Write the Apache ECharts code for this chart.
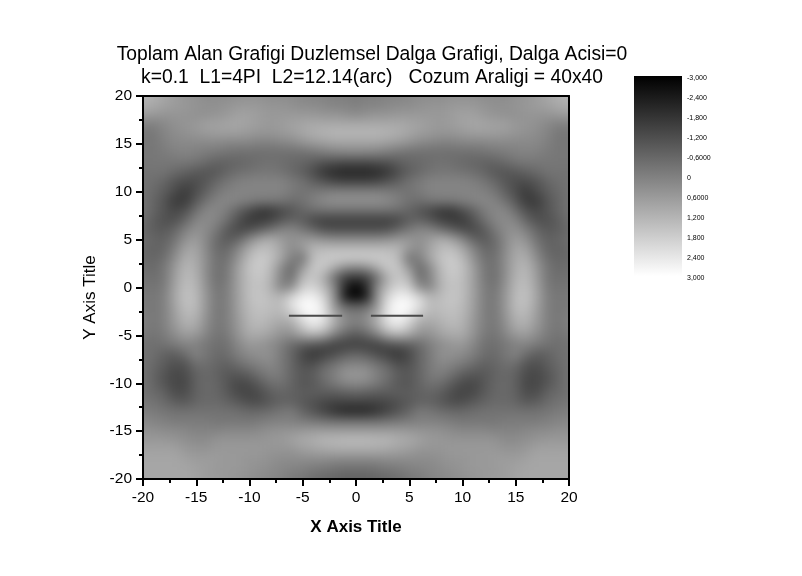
<!DOCTYPE html>
<html><head><meta charset="utf-8">
<style>html,body{margin:0;padding:0;background:#fff}#c{width:802px;height:576px}</style>
<script src="https://cdn.jsdelivr.net/npm/echarts@6/dist/echarts.min.js"></script>
</head><body><div id="c"></div>
<script>
const titleText = 'Toplam Alan Grafigi Duzlemsel Dalga Grafigi, Dalga Acisi=0\nk=0.1  L1=4PI  L2=12.14(arc)   Cozum Araligi = 40x40';
const xName = 'X Axis Title';
const yName = 'Y Axis Title';
const colorbarLabels = ['-3,000','-2,400','-1,800','-1,200','-0,6000','0','0,6000','1,200','1,800','2,400','3,000'];
const colorbarRange = [-3, 3];
const shadeColors = ['#000000', '#ffffff'];
const xValues = [-20,-19,-18,-17,-16,-15,-14,-13,-12,-11,-10,-9,-8,-7,-6,-5,-4,-3,-2,-1,0,1,2,3,4,5,6,7,8,9,10,11,12,13,14,15,16,17,18,19,20];
const yValues = [20,19,18,17,16,15,14,13,12,11,10,9,8,7,6,5,4,3,2,1,0,-1,-2,-3,-4,-5,-6,-7,-8,-9,-10,-11,-12,-13,-14,-15,-16,-17,-18,-19,-20];
const slitLine = [[-6.3,-2.95],[-1.3,-2.95],['-','-'],[1.4,-2.95],[6.3,-2.95]];
// field values, in tenths of the colour-scale unit
const fieldTenths = [
[13,11,9,7,5,4,3,3,3,4,4,4,3,3,3,2,1,1,0,0,-1,0,0,1,1,2,3,3,3,4,4,4,3,3,3,4,5,7,9,11,13],
[11,10,8,7,6,5,4,4,5,6,6,6,5,5,4,3,3,2,1,1,0,1,1,2,3,3,4,5,5,6,6,6,5,4,4,5,6,7,8,10,11],
[7,6,5,5,5,4,4,5,6,8,8,7,6,6,6,6,6,5,5,4,3,4,5,5,6,6,6,6,6,7,8,8,6,5,4,4,5,5,5,6,7],
[0,0,2,4,5,6,8,8,9,9,8,7,6,7,8,9,10,10,10,10,10,10,10,10,10,9,8,7,6,7,8,9,9,8,8,6,5,4,2,0,0],
[-2,-2,1,3,4,5,6,7,7,7,6,5,5,6,7,9,11,12,13,13,13,13,13,12,11,9,7,6,5,5,6,7,7,7,6,5,4,3,1,-2,-2],
[-2,-2,0,2,2,2,2,2,1,1,1,0,0,1,2,4,6,7,8,8,8,8,8,7,6,4,2,1,0,0,1,1,1,2,2,2,2,2,0,-2,-2],
[-2,-2,-1,0,1,0,-1,-2,-3,-4,-4,-4,-4,-4,-4,-4,-3,-1,0,1,1,1,0,-1,-3,-4,-4,-4,-4,-4,-4,-4,-3,-2,-1,0,1,0,-1,-2,-2],
[-2,-2,-2,-2,-2,-3,-5,-7,-7,-6,-5,-4,-3,-4,-5,-6,-8,-11,-12,-13,-13,-13,-12,-11,-8,-6,-5,-4,-3,-4,-5,-6,-7,-7,-5,-3,-2,-2,-2,-2,-2],
[-3,-3,-3,-5,-7,-9,-10,-9,-6,-4,-3,-2,-2,-3,-5,-8,-12,-17,-20,-21,-21,-21,-20,-17,-12,-8,-5,-3,-2,-2,-3,-4,-6,-9,-10,-9,-7,-5,-3,-3,-3],
[-3,-4,-6,-10,-12,-12,-9,-5,-2,0,1,1,1,1,-1,-3,-7,-10,-13,-14,-14,-14,-13,-10,-7,-3,-1,1,1,1,1,0,-2,-5,-9,-12,-12,-10,-6,-4,-3],
[-3,-5,-8,-12,-16,-12,-7,-2,0,1,1,1,1,1,-1,-3,-2,-1,0,0,0,0,0,-1,-2,-3,-1,1,1,1,1,1,0,-2,-7,-12,-16,-12,-8,-5,-3],
[-3,-6,-10,-16,-16,-9,-3,1,2,1,0,-1,-1,-2,-4,-3,0,3,4,4,4,4,4,3,0,-3,-4,-2,-1,-1,0,1,2,1,-3,-9,-16,-16,-10,-6,-3],
[-3,-6,-10,-13,-11,-4,2,2,-1,-7,-12,-17,-17,-13,-10,-6,-4,-3,-3,-3,-3,-3,-3,-3,-4,-6,-10,-13,-17,-17,-12,-7,-1,2,2,-4,-11,-13,-10,-6,-3],
[-4,-8,-11,-11,-6,1,3,1,-4,-11,-16,-16,-14,-10,-7,-8,-13,-15,-15,-15,-15,-15,-15,-15,-13,-8,-7,-10,-14,-16,-16,-11,-4,1,3,1,-6,-11,-11,-8,-4],
[-5,-8,-9,-6,0,4,3,-2,-9,-13,-12,-8,-4,1,2,-2,-6,-11,-12,-12,-12,-12,-12,-11,-6,-2,2,1,-4,-8,-12,-13,-9,-2,3,4,0,-6,-9,-8,-5],
[-4,-6,-7,-3,4,7,2,-5,-9,-6,2,8,11,7,4,6,6,4,3,3,3,3,3,4,6,6,4,7,11,8,2,-6,-9,-5,2,7,4,-3,-7,-6,-4],
[-5,-7,-6,0,8,9,2,-5,-5,2,10,15,14,9,3,6,13,14,14,14,14,14,14,14,13,6,3,9,14,15,10,2,-5,-5,2,9,8,0,-6,-7,-5],
[-5,-6,-4,3,11,10,3,-4,-3,5,14,18,16,9,0,-3,14,17,18,18,18,18,18,17,14,-3,0,9,16,18,14,5,-3,-4,3,10,11,3,-4,-6,-5],
[-4,-5,-2,6,13,11,3,-4,-1,8,16,18,14,3,-5,6,17,17,10,3,1,3,10,17,17,6,-5,3,14,18,16,8,-1,-4,3,11,13,6,-2,-5,-4],
[-3,-4,-2,7,14,12,3,-4,-1,8,15,17,13,1,-4,13,17,11,-4,-15,-17,-15,-4,11,17,13,-4,1,13,17,15,8,-1,-4,3,12,14,7,-2,-4,-3],
[-2,-3,-1,8,15,13,4,-3,0,8,15,16,12,1,3,18,20,14,2,-20,-29,-20,2,14,20,18,3,1,12,16,15,8,0,-3,4,13,15,8,-1,-3,-2],
[-1,-2,0,9,16,14,5,-2,0,8,15,17,14,13,20,26,27,20,4,-24,-30,-24,4,20,27,26,20,13,14,17,15,8,0,-2,5,14,16,9,0,-2,-1],
[-1,-2,0,8,15,14,5,-2,0,8,14,16,15,14,23,29,30,24,5,-5,-7,-5,5,24,30,29,23,14,15,16,14,8,0,-2,5,14,15,8,0,-2,-1],
[0,-2,0,7,13,12,4,-2,0,7,13,15,13,12,15,24,28,24,11,3,0,3,11,24,28,24,15,12,13,15,13,7,0,-2,4,12,13,7,0,-2,0],
[0,-2,0,6,11,10,3,-2,0,6,12,13,11,8,9,18,25,21,10,2,-1,2,10,21,25,18,9,8,11,13,12,6,0,-2,3,10,11,6,0,-2,0],
[-1,-3,-1,3,7,6,1,-3,-1,5,10,10,8,4,4,9,12,9,0,-6,-9,-6,0,9,12,9,4,4,8,10,10,5,-1,-3,1,6,7,3,-1,-3,-1],
[-3,-4,-3,-1,1,0,-2,-4,-3,2,6,5,3,0,-5,-8,-10,-12,-15,-15,-15,-15,-15,-12,-10,-8,-5,0,3,5,6,2,-3,-4,-2,0,1,-1,-3,-4,-3],
[-3,-4,-7,-8,-4,1,-2,-5,-4,0,3,4,4,-1,-6,-13,-17,-15,-12,-8,-6,-8,-12,-15,-17,-13,-6,-1,4,4,3,0,-4,-5,-2,1,-4,-8,-7,-4,-3],
[-3,-5,-8,-11,-10,-4,-4,-6,-7,-4,-1,1,2,-1,-6,-11,-12,-7,-3,0,1,0,-3,-7,-12,-11,-6,-1,2,1,-1,-4,-7,-6,-4,-4,-10,-11,-8,-5,-3],
[-3,-6,-10,-13,-12,-7,-5,-7,-9,-9,-7,-3,0,-1,-6,-9,-8,-3,0,5,6,5,0,-3,-8,-9,-6,-1,0,-3,-7,-9,-9,-7,-5,-7,-12,-13,-10,-6,-3],
[-3,-6,-10,-13,-13,-7,-5,-6,-10,-13,-12,-8,-4,-3,-6,-10,-9,-5,-1,2,3,2,-1,-5,-9,-10,-6,-3,-4,-8,-12,-13,-10,-6,-5,-7,-13,-13,-10,-6,-3],
[-3,-5,-7,-12,-12,-7,-5,-6,-9,-13,-14,-12,-8,-6,-7,-8,-8,-8,-8,-7,-6,-7,-8,-8,-8,-8,-7,-6,-8,-12,-14,-13,-9,-6,-5,-7,-12,-12,-7,-5,-3],
[-2,-3,-5,-8,-9,-6,-5,-5,-7,-9,-12,-12,-9,-7,-7,-9,-11,-13,-14,-14,-14,-14,-14,-13,-11,-9,-7,-7,-9,-12,-12,-9,-7,-5,-5,-6,-9,-8,-5,-3,-2],
[0,-1,-2,-3,-3,-3,-3,-3,-3,-4,-5,-5,-4,-2,-1,-6,-10,-14,-18,-21,-21,-21,-18,-14,-10,-6,-1,-2,-4,-5,-5,-4,-3,-3,-3,-3,-3,-3,-2,-1,0],
[2,1,0,-1,-1,-1,-1,-2,-2,-2,-2,-1,0,0,0,-1,-2,-3,-4,-4,-4,-4,-4,-3,-2,-1,0,0,0,-1,-2,-2,-2,-2,-1,-1,-1,-1,0,1,2],
[4,4,3,3,2,1,1,1,2,2,2,3,4,5,5,6,7,7,7,7,7,7,7,7,7,6,5,5,4,3,2,2,2,1,1,1,2,3,3,4,4],
[6,6,6,5,4,3,3,5,5,5,5,5,6,6,8,10,11,13,13,14,14,14,13,13,11,10,8,6,6,5,5,5,5,5,3,3,4,5,6,6,6],
[8,8,8,8,6,5,5,6,6,6,6,6,5,5,5,7,8,9,10,10,10,10,10,9,8,7,5,5,5,6,6,6,6,6,5,5,6,8,8,8,8],
[9,9,9,9,8,7,7,7,6,6,5,5,4,3,3,3,3,3,2,2,2,2,2,3,3,3,3,3,4,5,5,6,6,7,7,7,8,9,9,9,9],
[9,9,9,9,9,8,7,6,6,6,5,4,3,2,1,0,-1,-2,-3,-4,-4,-4,-3,-2,-1,0,1,2,3,4,5,6,6,6,7,8,9,9,9,9,9],
[9,9,9,9,9,8,7,7,6,5,4,3,2,1,-1,-2,-4,-5,-6,-7,-7,-7,-6,-5,-4,-2,-1,1,2,3,4,5,6,7,7,8,9,9,9,9,9]
];
const cells = [];
yValues.forEach((y, r) => xValues.forEach((x, c) => cells.push([x, y, fieldTenths[r][c] / 10])));

const FONT = '"Liberation Sans", Arial, sans-serif';
const chart = echarts.init(document.getElementById('c'), null, {renderer: 'canvas'});
const xEnds = [xValues[0], xValues[xValues.length - 1]];
const yEnds = [yValues[yValues.length - 1], yValues[0]];
const axisCommon = {
  min: -20, max: 20, interval: 5, zlevel: 1, z: 5,
  axisLine: {show: true, onZero: false, lineStyle: {color: '#000', width: 2}},
  axisTick: {show: true, inside: false, length: 7, lineStyle: {color: '#000', width: 2}},
  minorTick: {show: true, splitNumber: 2, length: 4, lineStyle: {color: '#000', width: 2}},
  splitLine: {show: false},
  axisLabel: {color: '#000', fontFamily: FONT, fontSize: 15.5, margin: 11, hideOverlap: false, showMinLabel: true, showMaxLabel: true}
};
const plainFrame = {min: -20, max: 20, zlevel: 1, axisLine: {show: true, onZero: false, lineStyle: {color: '#000', width: 2}},
  axisTick: {show: false}, axisLabel: {show: false}, splitLine: {show: false}};
chart.setOption({
  animation: false,
  backgroundColor: 'transparent',
  title: {
    text: titleText, left: 367, top: 38, textAlign: 'center', zlevel: 1,
    textStyle: {fontFamily: FONT, fontSize: 19.3, fontWeight: 'normal', color: '#000', lineHeight: 23}
  },
  grid: [
    {left: 143, top: 96, width: 426, height: 383, show: false},
    {left: 684, top: 78.5, width: 1, height: 200, show: false},
    {left: 634, top: 76, width: 48, height: 200, show: false}
  ],
  xAxis: [
    Object.assign({}, axisCommon, {type: 'value', gridIndex: 0, name: xName, nameLocation: 'middle', nameGap: 40,
      nameTextStyle: {fontFamily: FONT, fontSize: 17, fontWeight: 'bold', color: '#000'}}),
    Object.assign({}, plainFrame, {type: 'value', gridIndex: 0, position: 'top'}),
    {type: 'value', gridIndex: 1, show: false, min: 0, max: 1},
    {type: 'value', gridIndex: 2, show: false, min: 0, max: 1}
  ],
  yAxis: [
    Object.assign({}, axisCommon, {type: 'value', gridIndex: 0, name: yName, nameLocation: 'middle', nameGap: 43,
      nameTextStyle: {fontFamily: FONT, fontSize: 17, color: '#000', padding: [0, 20, 0, 0]}}),
    Object.assign({}, plainFrame, {type: 'value', gridIndex: 0, position: 'right'}),
    {type: 'category', gridIndex: 1, position: 'right', inverse: true, boundaryGap: false, data: colorbarLabels, zlevel: 1,
      axisLine: {show: false}, axisTick: {show: false}, splitLine: {show: false},
      axisLabel: {interval: 0, margin: 2, fontSize: 7, fontFamily: FONT, color: '#000', hideOverlap: false}},
    {type: 'value', gridIndex: 2, show: false, inverse: true, min: colorbarRange[0], max: colorbarRange[1]}
  ],
  visualMap: {
    type: 'continuous', show: false, min: colorbarRange[0], max: colorbarRange[1], seriesIndex: 0, dimension: 2,
    inRange: {color: shadeColors}
  },
  series: [
    {
      type: 'custom', xAxisIndex: 0, yAxisIndex: 0, zlevel: 0, clip: false, silent: true,
      coordinateSystem: 'cartesian2d',
      encode: {x: 0, y: 1},
      data: cells,
      renderItem: function (params, api) {
        const x = api.value(0), y = api.value(1);
        const a = api.coord([x - 0.5, y + 0.5]);
        const b = api.coord([x + 0.5, y - 0.5]);
        // edge cells run on past the frame so the soft shading stays even up to it
        const x0 = x === xEnds[0] ? a[0] - 30 : a[0];
        const x1 = x === xEnds[1] ? b[0] + 30 : b[0];
        const y0 = y === yEnds[1] ? a[1] - 30 : a[1];
        const y1 = y === yEnds[0] ? b[1] + 30 : b[1];
        const color = api.visual('color');
        return {type: 'rect', shape: {x: x0, y: y0, width: x1 - x0, height: y1 - y0},
          style: {fill: color, stroke: color, lineWidth: 1}};
      }
    },
    {
      type: 'line', xAxisIndex: 0, yAxisIndex: 0, zlevel: 1, z: 3, symbol: 'none', silent: true, connectNulls: false,
      data: slitLine, lineStyle: {color: '#4a4a4a', width: 2}
    },
    {
      type: 'custom', xAxisIndex: 3, yAxisIndex: 3, zlevel: 1, silent: true, coordinateSystem: 'cartesian2d',
      data: [[0, colorbarRange[0], 1, colorbarRange[1]]],
      encode: {x: [0, 2], y: [1, 3]},
      renderItem: function (params, api) {
        const a = api.coord([api.value(0), api.value(1)]);
        const b = api.coord([api.value(2), api.value(3)]);
        return {type: 'rect', shape: {x: a[0], y: a[1], width: b[0] - a[0], height: b[1] - a[1]},
          style: {fill: new echarts.graphic.LinearGradient(0, 0, 0, 1, [{offset: 0, color: shadeColors[0]}, {offset: 1, color: shadeColors[1]}])}};
      }
    }
  ]
});
// soft shading of the field layer only: blur, then trim to the plot frame
const fieldLayer = chart.getDom().querySelectorAll('canvas')[0];
fieldLayer.style.filter = 'blur(5.5px)';
fieldLayer.style.clipPath = 'inset(96px 233px 97px 143px)';
</script></body></html>
